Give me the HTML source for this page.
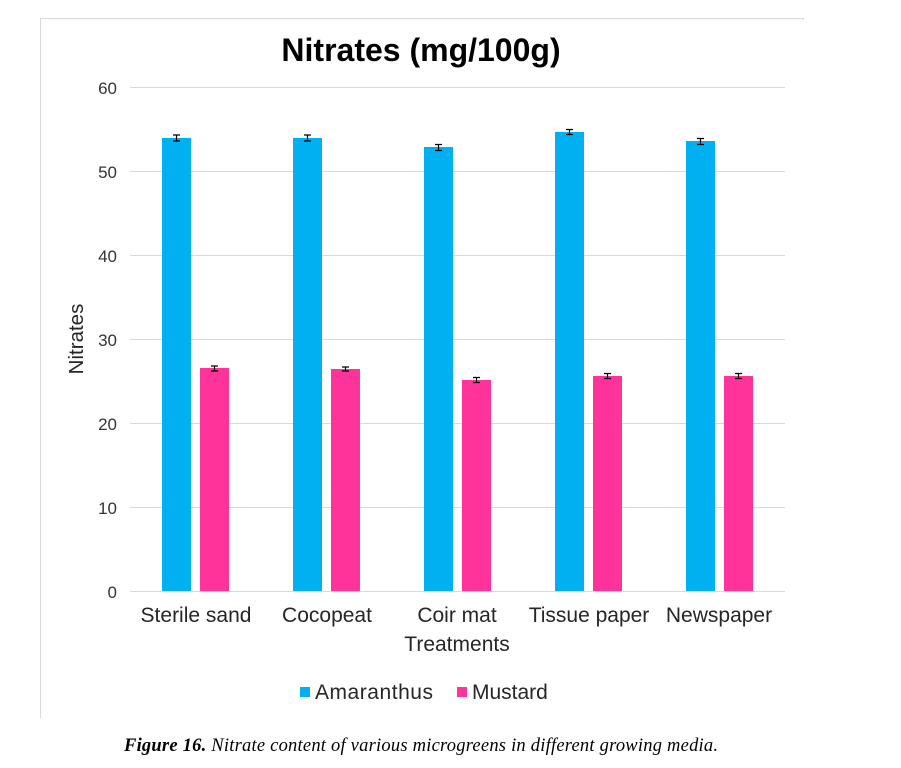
<!DOCTYPE html>
<html><head><meta charset="utf-8"><style>
body{margin:0;background:#fff;}
svg{display:block}
</style></head><body>
<svg width="901" height="768" xmlns="http://www.w3.org/2000/svg" font-family="Liberation Sans, sans-serif">
<rect width="901" height="768" fill="#fff"/>
<path d="M40.5 718 V18.5 H803.5 V20" stroke="#d9d9d9" fill="none"/>
<text x="421" y="61" font-size="32" font-weight="bold" text-anchor="middle" fill="#000">Nitrates (mg/100g)</text>
<g stroke="#d9d9d9" stroke-width="1">
<line x1="130" x2="785" y1="87.5" y2="87.5"/>
<line x1="130" x2="785" y1="171.5" y2="171.5"/>
<line x1="130" x2="785" y1="255.5" y2="255.5"/>
<line x1="130" x2="785" y1="339.5" y2="339.5"/>
<line x1="130" x2="785" y1="423.5" y2="423.5"/>
<line x1="130" x2="785" y1="507.5" y2="507.5"/>
<line x1="130" x2="785" y1="591.5" y2="591.5"/>
</g>
<g font-size="17" fill="#333" text-anchor="end">
<text x="117" y="94">60</text><text x="117" y="178">50</text><text x="117" y="262">40</text>
<text x="117" y="346">30</text><text x="117" y="430">20</text><text x="117" y="514">10</text><text x="117" y="598">0</text>
</g>
<g fill="#00b0f0">
<rect x="162" y="138" width="29" height="453"/>
<rect x="293" y="138" width="29" height="453"/>
<rect x="424" y="147" width="29" height="444"/>
<rect x="555" y="132" width="29" height="459"/>
<rect x="686" y="141" width="29" height="450"/>
</g>
<g fill="#ff3399">
<rect x="200" y="368" width="29" height="223"/>
<rect x="331" y="369" width="29" height="222"/>
<rect x="462" y="380" width="29" height="211"/>
<rect x="593" y="376" width="29" height="215"/>
<rect x="724" y="376" width="29" height="215"/>
</g>
<g stroke="#000" stroke-width="1.2">
<path d="M176.5 135V141M173 135H180M173 141H180"/>
<path d="M307.5 135V141M304 135H311M304 141H311"/>
<path d="M438.5 144.5V150.5M435 144.5H442M435 150.5H442"/>
<path d="M569.5 129.5V134.5M566 129.5H573M566 134.5H573"/>
<path d="M700.5 138.5V144.5M697 138.5H704M697 144.5H704"/>
<path d="M214.5 366V371M211 366H218M211 371H218"/>
<path d="M345.5 367V371M342 367H349M342 371H349"/>
<path d="M476.5 377.5V382.5M473 377.5H480M473 382.5H480"/>
<path d="M607.5 373.5V378.5M604 373.5H611M604 378.5H611"/>
<path d="M738.5 373.5V378.5M735 373.5H742M735 378.5H742"/>
</g>
<g font-size="21" fill="#262626" text-anchor="middle">
<text x="196" y="622">Sterile sand</text>
<text x="327" y="622">Cocopeat</text>
<text x="457" y="622">Coir mat</text>
<text x="589" y="622">Tissue paper</text>
<text x="719" y="622">Newspaper</text>
<text x="457" y="651">Treatments</text>
</g>
<text transform="translate(83 339) rotate(-90)" font-size="20.5" fill="#262626" text-anchor="middle">Nitrates</text>
<rect x="300" y="687" width="10" height="10" fill="#00b0f0"/>
<text x="315" y="699" font-size="21" fill="#262626" textLength="118">Amaranthus</text>
<rect x="457" y="687" width="10" height="10" fill="#ff3399"/>
<text x="472" y="699" font-size="21" fill="#262626">Mustard</text>
<text x="124" y="751" font-family="Liberation Serif, serif" font-size="18.5" font-style="italic" fill="#000" textLength="594"><tspan font-weight="bold">Figure 16.</tspan> Nitrate content of various microgreens in different growing media.</text>
</svg>
</body></html>
